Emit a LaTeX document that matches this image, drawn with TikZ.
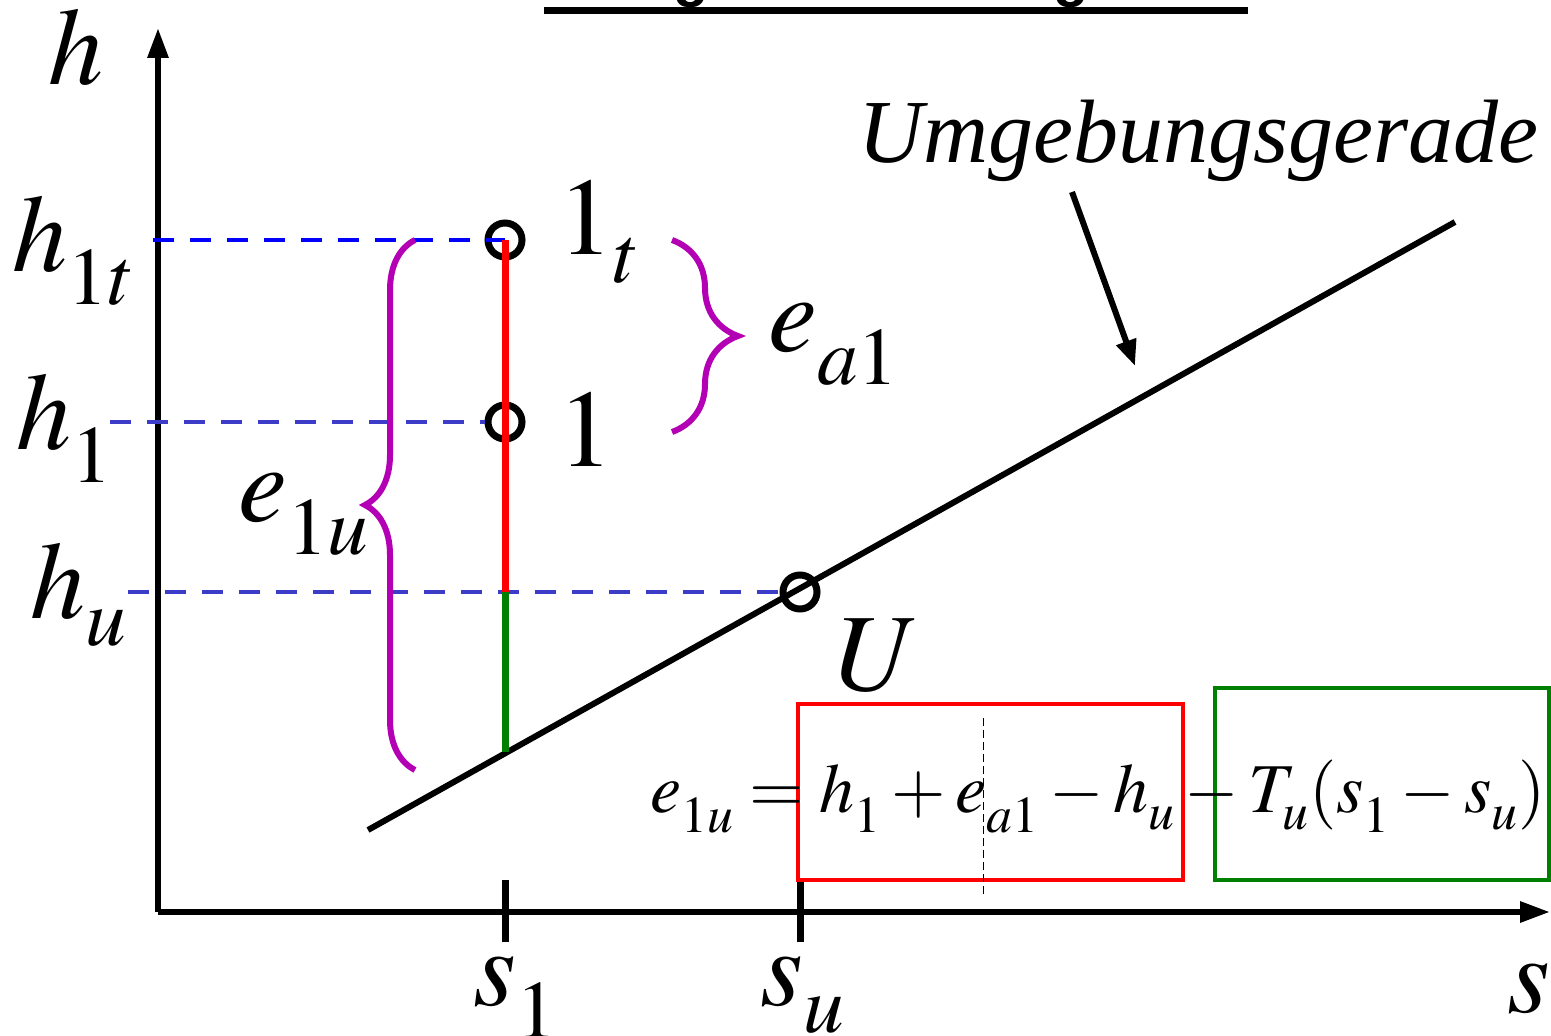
\documentclass[tikz,border=0pt]{standalone}
\usepackage{mathptmx}
\usepackage[no-math]{fontspec}
\setmainfont{Liberation Serif}
\setsansfont{Liberation Sans}
\usepackage{tikz}
\usetikzlibrary{arrows.meta, decorations.pathreplacing}
\definecolor{braceviolet}{RGB}{180,0,180}
\definecolor{dashblue}{RGB}{60,60,200}
\definecolor{puregreen}{RGB}{0,128,0}

\begin{document}
\begin{tikzpicture}[x=0.5pt, y=-0.5pt,
    lbl/.style={font=\fontsize{55}{60}\selectfont, inner sep=0pt, anchor=base west},
    axisline/.style={line width=3pt, -{Triangle[length=15pt, width=10pt]}},
    tickmark/.style={line width=3.5pt},
    statept/.style={circle, draw, line width=3.5pt, minimum size=17pt, inner sep=0pt},
    levelline/.style={dashblue, line width=2pt, dash pattern=on 10.5pt off 8pt},
    processline/.style={line width=3.5pt},
    bracemark/.style={braceviolet, line width=3pt, decorate, decoration={brace, amplitude=#1}},
    termbox/.style={line width=2pt}]
  \useasboundingbox (0,0) rectangle (1551,1036);
  % title, cut off by the upper edge
  \node[font=\sffamily\bfseries\fontsize{29}{34}\selectfont, inner sep=0pt, anchor=base] (title) at (896,-4) {Energie im h-s-Diagramm};
  \draw[line width=3.5pt] ([yshift=-7.25pt]title.base west) -- ([yshift=-7.25pt]title.base east);
  % axes
  \coordinate (O) at (158,912);
  \coordinate (ytop) at (158,28);
  \coordinate (xend) at (1550,912);
  \draw[axisline] (O) -- (ytop);
  \draw[axisline] (O) -- (xend);
  \node[lbl] (hlab) at (48,85) {$h$};
  \node[lbl] (slab) at (1507,1012) {$s$};
  % ticks
  \draw[tickmark] (505,880) -- (505,942);
  \draw[tickmark] (800,880) -- (800,942);
  \node[lbl] (s1lab) at (473,1005) {$s_1^{}$};
  \node[lbl] (sulab) at (760,1005) {$s_u^{}$};
  % Umgebungsgerade
  \coordinate (ga) at (368,830);
  \coordinate (gb) at (1455,222);
  \draw[line width=3pt] (ga) -- (gb);
  \node[font=\itshape\fontsize{45}{50}\selectfont, inner sep=0pt, anchor=base west] (umg) at (858,163) {Umgebungsgerade};
  \coordinate (umgstart) at (1072,192);
  \coordinate (umgtip) at (1135,366);
  \draw[line width=3pt, -{Triangle[length=13pt, width=10pt]}] (umgstart) -- (umgtip);
  % states
  \node[statept] (p1t) at (505,240) {};
  \node[statept] (p1) at (505,422) {};
  \node[statept] (pU) at (800,592) {};
  \coordinate (qU) at (505,592);
  \coordinate (q0) at (505,752);
  % levels
  \coordinate (d1t) at (153,240);
  \coordinate (d1) at (110,422);
  \coordinate (du) at (128,592);
  \draw[levelline, blue] (d1t) -- (p1t.center);
  \draw[levelline] (d1) -- (p1.west);
  \draw[levelline] (du) -- (pU.west);
  \draw[processline, red] (p1t.center) -- (qU);
  \draw[processline, puregreen] (qU) -- (q0);
  \node[lbl] (l1t) at (12,272) {$h_{1t}^{}$};
  \node[lbl] (l1) at (16,450) {$h_1^{}$};
  \node[lbl] (lu) at (30,618) {$h_u^{}$};
  \node[lbl] (n1t) at (558,255) {$1_t^{}$};
  \node[lbl] (n1) at (558,467) {$1$};
  \node[lbl] (nU) at (836,690) {$U$};
  % braces
  \draw[bracemark=25pt] (415,770) -- (415,240);
  \draw[bracemark=33pt] (672,240) -- (672,432);
  \node[lbl] (e1u) at (238,522) {$e_{1u}^{}$};
  \node[lbl] (ea1) at (768,352) {$e_{a1}^{}$};
  % balance
  \draw[termbox, red] (798,704) rectangle (1183,880);
  \draw[termbox, puregreen] (1215,688) rectangle (1549,880);
  \draw[line width=0.5pt, dash pattern=on 4pt off 2pt] (983,718) -- (983,895);
  \node[font=\fontsize{35}{40}\selectfont, inner sep=0pt, anchor=base west] (bal) at (650,812)
    {$e_{1u}^{}=h_1^{}+e_{a1}^{}-h_u^{}-T_u^{}(s_1^{}-s_u^{})$};
\end{tikzpicture}
\end{document}
